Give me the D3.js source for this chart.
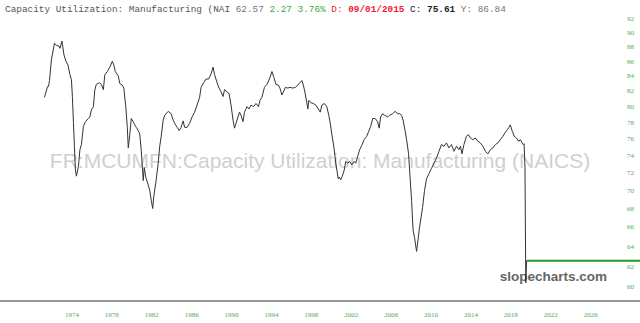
<!DOCTYPE html>
<html>
<head>
<meta charset="utf-8">
<script src="https://cdn.jsdelivr.net/npm/d3@7"></script>
<style>
body{margin:0;background:#fff;}
svg{display:block;}
</style>
</head>
<body>
<svg id="chart" width="640" height="323"></svg>
<script>
// data -------------------------------------------

// decimal years
var dates=[1972.0,1972.3,1972.4,1972.5,1972.7,1973.0,1973.2,1973.45,1973.55,1973.75,1973.95,
1974.15,1974.35,1974.55,1974.7,1974.8,1974.9,1975.0,1975.1,1975.2,1975.4,1975.55,1975.7,1975.9,
1976.1,1976.4,1976.55,1976.7,1976.9,1977.05,1977.2,1977.5,1977.7,1977.9,1978.05,1978.3,1978.55,
1978.8,1978.95,1979.1,1979.4,1979.55,1979.8,1979.95,1980.15,1980.3,1980.4,1980.55,1980.7,1980.9,
1981.05,1981.2,1981.4,1981.55,1981.7,1981.9,1982.0,1982.15,1982.4,1982.55,1982.7,1982.85,1982.95,
1983.15,1983.4,1983.55,1983.7,1983.9,1984.05,1984.4,1984.7,1984.9,1985.05,1985.3,1985.5,1985.7,
1985.9,1986.05,1986.3,1986.55,1986.8,1987.05,1987.3,1987.55,1987.7,1987.95,1988.2,1988.45,1988.7,
1988.9,1989.05,1989.3,1989.5,1989.7,1989.9,1990.05,1990.3,1990.5,1990.7,1990.9,1991.05,1991.2,
1991.4,1991.55,1991.7,1991.9,1992.05,1992.3,1992.5,1992.7,1992.95,1993.2,1993.45,1993.6,1993.8,
1994.05,1994.3,1994.55,1994.8,1995.0,1995.2,1995.45,1995.6,1995.8,1995.95,1996.15,1996.4,1996.6,
1996.9,1997.15,1997.4,1997.6,1997.8,1997.95,1998.1,1998.3,1998.4,1998.5,1998.7,1998.95,1999.2,
1999.45,1999.65,1999.8,2000.05,2000.3,2000.5,2000.65,2000.8,2001.0,2001.2,2001.45,2001.55,2001.7,
2001.85,2002.05,2002.2,2002.4,2002.6,2002.8,2003.05,2003.2,2003.4,2003.6,2003.8,2004.05,2004.3,
2004.5,2004.7,2004.9,2005.15,2005.4,2005.55,2005.7,2005.9,2006.1,2006.4,2006.6,2006.9,2007.15,
2007.4,2007.6,2007.8,2007.95,2008.15,2008.3,2008.5,2008.6,2008.8,2008.95,2009.1,2009.3,2009.45,
2009.6,2009.9,2010.1,2010.3,2010.55,2010.8,2011.05,2011.3,2011.55,2011.8,2012.05,2012.3,2012.55,
2012.8,2013.05,2013.3,2013.55,2013.7,2013.85,2014.05,2014.3,2014.5,2014.7,2014.95,2015.2,2015.45,
2015.7,2015.95,2016.2,2016.45,2016.7,2016.95,2017.2,2017.45,2017.7,2017.95,2018.15,2018.4,2018.55,
2018.7,2018.9,2019.1,2019.3,2019.55,2019.7,2019.9,2020.0,2020.08,2020.17,2020.25,2020.33];

var values=[81.2,82.6,82.6,83.4,86.3,88.5,88.2,88.1,87.8,88.8,86.9,
86.0,85.5,84.2,83.5,81.2,78.0,75.1,72.3,71.6,72.7,74.7,75.3,77.5,
78.1,78.5,78.7,79.6,80.0,82.2,82.9,83.1,82.9,82.2,84.2,84.6,85.2,
86.0,85.5,84.6,84.0,83.0,82.8,82.4,80.0,77.4,74.9,76.5,78.5,78.1,
77.7,77.4,77.0,76.6,74.6,71.1,72.6,71.5,70.6,70.0,68.9,68.0,69.3,
70.8,73.1,75.1,76.3,78.3,78.9,79.4,79.1,78.3,77.9,77.4,77.0,77.4,
78.2,77.4,77.4,77.9,78.7,79.3,80.2,81.2,82.5,83.1,83.6,83.6,84.3,
85.2,84.2,83.1,82.4,81.9,81.3,82.2,81.9,81.7,80.2,78.3,77.3,77.9,
78.7,79.3,78.9,78.1,79.3,80.0,79.7,80.2,80.0,80.4,80.0,80.8,81.2,
82.5,82.9,83.6,84.6,83.8,82.9,82.8,82.4,81.5,81.9,82.5,82.4,82.5,
82.4,82.5,82.8,83.1,83.4,82.8,81.9,80.5,79.7,80.8,80.5,80.4,80.2,
79.7,79.3,80.2,80.4,80.0,78.9,77.9,76.6,75.1,73.1,71.3,71.5,71.2,
71.6,72.3,73.3,73.1,73.3,72.9,73.3,73.1,73.9,74.7,75.2,75.9,76.3,
76.9,77.5,78.5,78.5,78.1,77.3,78.7,79.1,78.9,78.7,78.9,79.1,79.4,
79.1,79.1,78.9,78.3,77.0,75.9,74.2,72.3,68.9,65.7,64.9,63.5,64.7,
66.0,68.1,70.0,71.3,71.9,72.5,73.1,73.7,74.5,75.3,75.1,75.5,74.9,
75.3,74.5,75.1,74.7,75.1,74.2,75.3,76.3,76.5,76.1,75.9,76.1,75.7,
75.5,75.1,74.5,74.2,74.7,74.9,75.3,75.5,75.9,76.3,76.7,77.1,77.4,
77.7,76.9,76.3,76.1,75.7,75.9,75.5,75.3,75.4,72.6,60.4,62.57];

var lastValue=62.57;
var yTicks=[60,62,64,66,68,70,72,74,76,78,80,82,84,86,88,90,92];
var xTicks=[1974,1978,1982,1986,1990,1994,1998,2002,2006,2010,2014,2018,2022,2026];

// header pieces: text, colour, weight
var header=[
  ['Capacity Utilization: Manufacturing (NAI ','#555','normal'],
  ['62.57 ','#777','normal'],
  ['2.27 3.76% ','#4a4','normal'],
  ['D: ','#e23','normal'],
  ['09/01/2015 ','#e23','bold'],
  ['C: ','#222','normal'],
  ['75.61 ','#222','bold'],
  ['Y: ','#777','normal'],
  ['86.84','#777','normal']
];

// scales ---------------------------------------
var svg=d3.select('#chart');
var x=d3.scaleLinear().domain([1972,2031.7]).range([44.5,640]);
var y=d3.scaleLog().domain([60,92]).range([287,19]);

// watermark under the line
svg.append('text')
  .attr('x',320).attr('y',168)
  .attr('text-anchor','middle')
  .style('font-family','Liberation Sans, Arial, sans-serif')
  .style('font-size','21px')
  .style('fill','#d0d0d0')
  .text('FR:MCUMFN:Capacity Utilization: Manufacturing (NAICS)');

svg.append('text')
  .attr('x',607).attr('y',281)
  .attr('text-anchor','end')
  .style('font-family','Liberation Sans, Arial, sans-serif')
  .style('font-size','13.5px')
  .style('font-weight','bold')
  .style('fill','#666')
  .text('slopecharts.com');

// header
var title=svg.append('text')
  .attr('x',5).attr('y',12)
  .attr('xml:space','preserve')
  .style('font-family','Liberation Mono, Courier New, monospace')
  .style('font-size','9.4px');
header.forEach(function(h){
  title.append('tspan').style('fill',h[1]).style('font-weight',h[2]).text(h[0]);
});

// y labels on the right
svg.append('g').selectAll('text')
  .data(yTicks)
  .enter().append('text')
  .attr('x',627)
  .attr('y',function(d){return y(d);})
  .attr('dy','0.32em')
  .style('font-family','Liberation Serif, Times New Roman, serif')
  .style('font-size','7px')
  .style('fill','#5a5')
  .text(function(d){return d;});

// bottom axis
var xAxis=d3.axisBottom(x).tickValues(xTicks).tickSize(0).tickFormat(d3.format('d'));
var gx=svg.append('g').attr('transform','translate(0,301)').call(xAxis);
gx.select('.domain').remove();
gx.selectAll('text')
  .attr('text-anchor','start')
  .attr('y',11)
  .style('font-family','Liberation Serif, Times New Roman, serif')
  .style('font-size','7px')
  .style('fill','#5a5');
svg.append('line')
  .attr('x1',0).attr('x2',640).attr('y1',301).attr('y2',301)
  .style('stroke','#999').style('stroke-width',2);

// series line
var series=dates.map(function(d,i){return {t:d,v:values[i]};});
var line=d3.line().x(function(d){return x(d.t);}).y(function(d){return y(d.v);});
svg.append('path')
  .datum(series)
  .attr('d',line)
  .style('fill','none')
  .style('stroke','#333')
  .style('stroke-width',1);

// last value marker
svg.append('line')
  .attr('x1',x(dates[dates.length-1])).attr('x2',640)
  .attr('y1',y(lastValue)).attr('y2',y(lastValue))
  .style('stroke','#229922').style('stroke-width',2);
</script>
</body>
</html>
